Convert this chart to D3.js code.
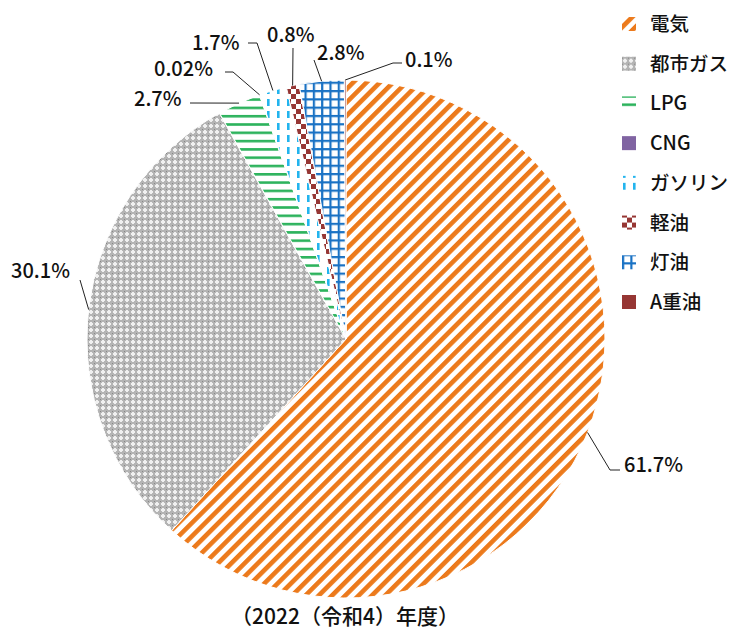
<!DOCTYPE html>
<html>
<head>
<meta charset="utf-8">
<script src="https://cdn.jsdelivr.net/npm/d3@7"></script>
<style>
  body { margin: 0; background: #fff; }
  svg text { font-family: "Noto Sans CJK JP", "Noto Sans", sans-serif; fill: #111; }
</style>
</head>
<body>
<div id="chart"></div>
<script>
// data
let categories = ["電気", "都市ガス", "LPG", "CNG", "ガソリン", "軽油", "灯油", "A重油"];
let values = [61.7, 30.1, 2.7, 0.02, 1.7, 0.8, 2.8, 0.1];
let value_labels = ["61.7%", "30.1%", "2.7%", "0.02%", "1.7%", "0.8%", "2.8%", "0.1%"];
let title = "（2022（令和4）年度）";

let chart_width = 730;
let chart_height = 631;
let cx = 346, cy = 339, radius = 259;

// where each label sits + the leader path points before reaching the pie (layout only)
let label_layout = [
  { x: 624, y: 472, pts: [[620, 470], [610, 470]] },
  { x: 11, y: 278, pts: [[80, 280]] },
  { x: 134, y: 106, pts: [[190, 103]] },
  { x: 154, y: 76, pts: [[225, 72], [233, 72]] },
  { x: 192, y: 50, pts: [[248, 43], [257, 43]] },
  { x: 267, y: 42, pts: [[293, 48]] },
  { x: 317, y: 60, pts: [[314, 60]] },
  { x: 405, y: 67, pts: [[402, 63], [393, 63]] }
];

let svg = d3
  .select("#chart")
  .append("svg")
  .attr("width", chart_width)
  .attr("height", chart_height);

let defs = svg.append("defs");

// patterns -----------------------------------------------------------
function pattern(id, w, h, transform) {
  let p = defs.append("pattern")
    .attr("id", id)
    .attr("patternUnits", "userSpaceOnUse")
    .attr("width", w)
    .attr("height", h);
  if (transform) p.attr("patternTransform", transform);
  p.append("rect").attr("width", w).attr("height", h).attr("fill", "#fff");
  return p;
}

// 電気 orange diagonal stripes "/"
pattern("p0", 9.4, 9.4, "rotate(45)")
  .append("rect").attr("width", 4.6).attr("height", 9.4).attr("fill", "#ec7a1c");

// 都市ガス small gray lattice
let p1 = pattern("p1", 6, 6);
p1.select("rect").attr("fill", "#b4b4b4");
p1.append("rect").attr("x", 2).attr("y", 1).attr("width", 2).attr("height", 4).attr("fill", "#f0f0f0");
p1.append("rect").attr("x", 1).attr("y", 2).attr("width", 4).attr("height", 2).attr("fill", "#f0f0f0");
p1.append("rect").attr("x", 0).attr("y", 0).attr("width", 1).attr("height", 1).attr("fill", "#888");

// LPG green horizontal lines
pattern("p2", 8, 8.3)
  .append("rect").attr("width", 8).attr("height", 2.6).attr("fill", "#2db35d");

// ガソリン light blue dashed verticals
pattern("p4", 10, 12)
  .append("rect").attr("x", 1).attr("width", 2.6).attr("height", 7).attr("fill", "#22b4ee");

// 軽油 dark red checks
let p5 = pattern("p5", 10, 10);
p5.append("rect").attr("width", 5).attr("height", 5).attr("fill", "#963634");
p5.append("rect").attr("x", 5).attr("y", 5).attr("width", 5).attr("height", 5).attr("fill", "#963634");

// 灯油 blue grid
let p6 = pattern("p6", 8.3, 8.3);
p6.append("rect").attr("width", 2.2).attr("height", 8.3).attr("fill", "#1a72c4");
p6.append("rect").attr("width", 8.3).attr("height", 2.2).attr("fill", "#1a72c4");

let fills = ["url(#p0)", "url(#p1)", "url(#p2)", "#8064a2", "url(#p4)", "url(#p5)", "url(#p6)", "#963634"];

// pie ----------------------------------------------------------------
let pie = d3.pie().sort(null).value(function (d) { return d; });
let arcs = pie(values);

let arc = d3.arc().innerRadius(0).outerRadius(radius);

let g = svg.append("g").attr("transform", "translate(" + cx + "," + cy + ")");

g.selectAll("path")
  .data(arcs)
  .enter()
  .append("path")
  .attr("d", arc)
  .attr("fill", function (d, i) { return fills[i]; })
  .attr("stroke", "#fff")
  .attr("stroke-width", 1);

// point on the rim at the slice mid angle
function rim(d) {
  let a = (d.startAngle + d.endAngle) / 2;
  return [cx + radius * Math.sin(a), cy - radius * Math.cos(a)];
}

// leader lines + labels
svg.selectAll(".leader")
  .data(arcs)
  .enter()
  .append("polyline")
  .attr("class", "leader")
  .attr("fill", "none")
  .attr("stroke", "#222")
  .attr("stroke-width", 1)
  .attr("points", function (d, i) {
    let pts = label_layout[i].pts.concat([rim(d)]);
    return pts.map(function (p) { return p.join(","); }).join(" ");
  });

svg.selectAll(".vlabel")
  .data(arcs)
  .enter()
  .append("text")
  .attr("class", "vlabel")
  .attr("x", function (d, i) { return label_layout[i].x; })
  .attr("y", function (d, i) { return label_layout[i].y; })
  .attr("font-size", 20)
  .attr("font-weight", 500)
  .text(function (d, i) { return value_labels[i]; });

// legend ---------------------------------------------------------------
let legend_y = d3.scaleLinear().domain([0, categories.length - 1]).range([24, 302]);

let leg = svg.selectAll(".legend")
  .data(categories)
  .enter()
  .append("g")
  .attr("class", "legend")
  .attr("transform", function (d, i) { return "translate(622," + legend_y(i) + ")"; });

leg.append("rect")
  .attr("x", 0)
  .attr("y", -7)
  .attr("width", 14)
  .attr("height", 14)
  .attr("fill", function (d, i) { return fills[i]; });

leg.append("text")
  .attr("x", 28)
  .attr("y", 0)
  .attr("dy", "0.36em")
  .attr("font-size", 19.5)
  .attr("font-weight", 500)
  .text(function (d) { return d; });

// title under the pie
svg.append("text")
  .attr("x", 345)
  .attr("y", 624)
  .attr("text-anchor", "middle")
  .attr("font-size", 21)
  .attr("font-weight", 500)
  .text(title);
</script>
</body>
</html>
